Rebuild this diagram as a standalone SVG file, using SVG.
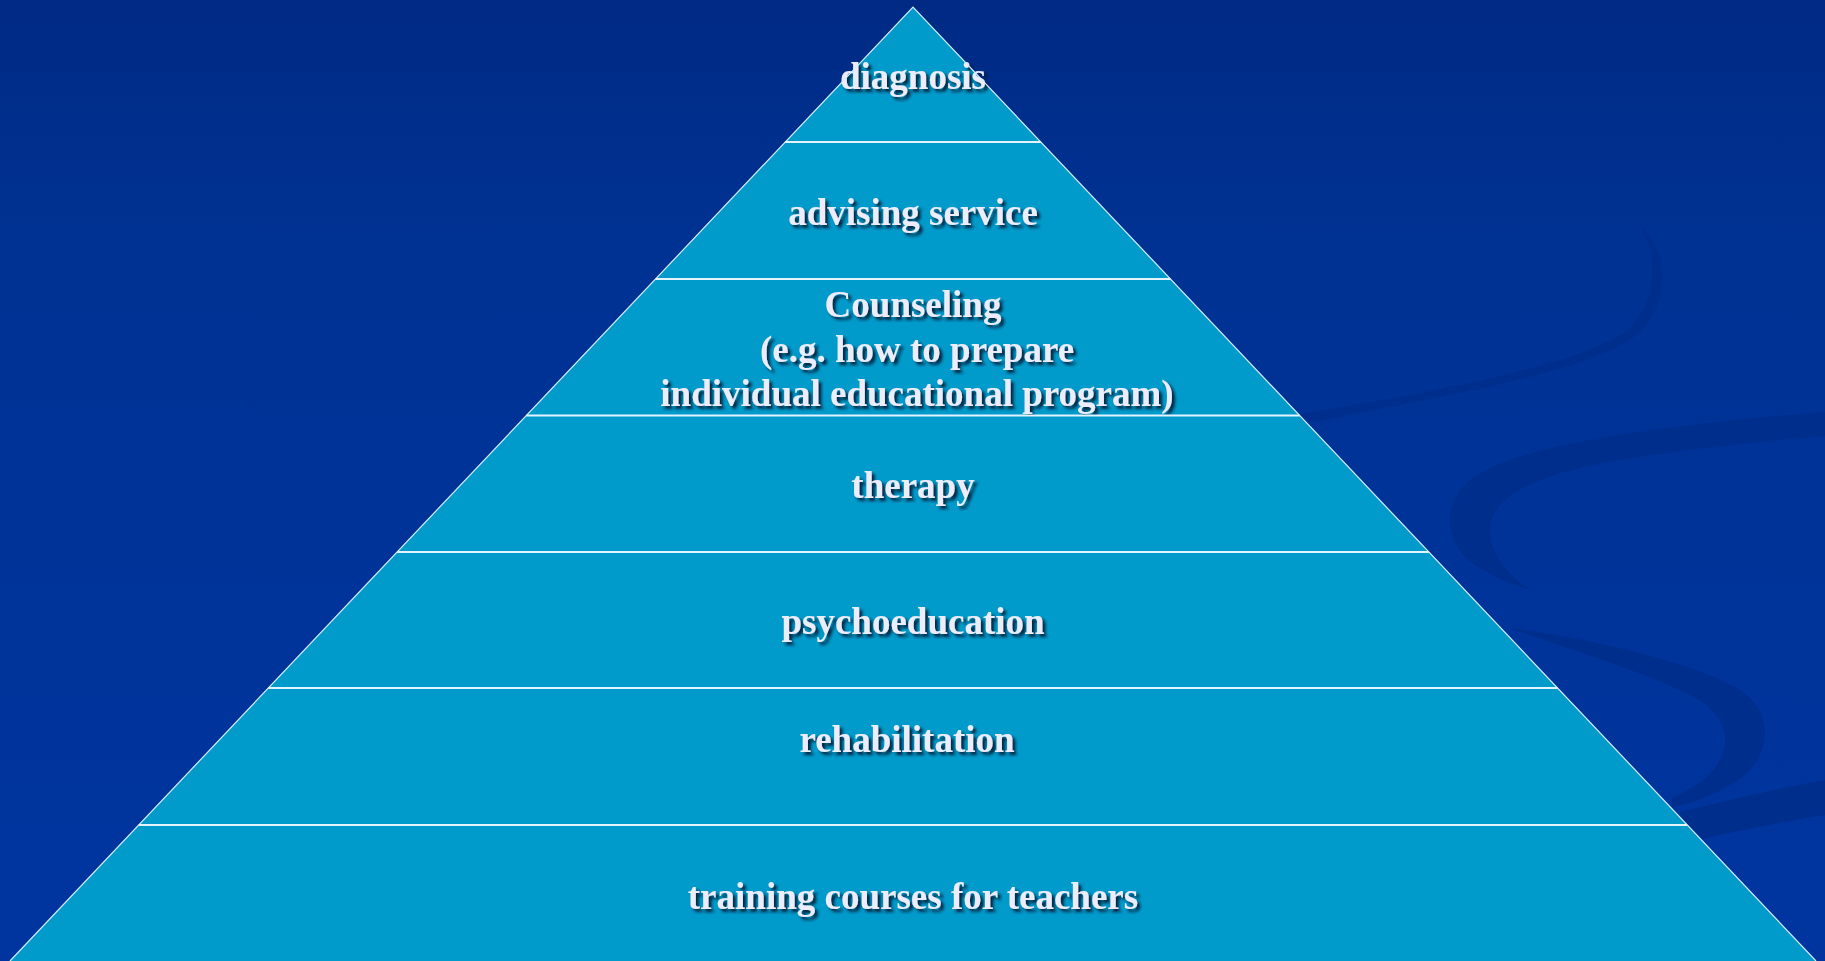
<svg xmlns="http://www.w3.org/2000/svg" width="1825" height="961" viewBox="0 0 1825 961">
<defs>
<linearGradient id="bg" x1="0" y1="0" x2="0" y2="1">
<stop offset="0" stop-color="#002A84"/>
<stop offset="0.25" stop-color="#003293"/>
<stop offset="1" stop-color="#0035A0"/>
</linearGradient>
<filter id="shadow" x="-10%" y="-30%" width="120%" height="160%">
<feDropShadow dx="3" dy="3" stdDeviation="1.5" flood-color="#001530" flood-opacity="0.9"/>
</filter>
</defs>
<style>
.tier{fill:#009BCB;}
.sep{stroke:#E4F4FF;stroke-width:2;fill:none;}
.edge{stroke:#D8EEFF;stroke-width:1.2;fill:none;}
.lbl{font-family:"Liberation Serif",serif;font-weight:bold;font-size:37px;fill:#ECECFA;text-anchor:middle;filter:url(#shadow);}
.swoosh{fill:#002E8C;}
</style>
<rect x="0" y="0" width="1825" height="961" fill="url(#bg)"/>
<g id="background-swooshes">
<path class="swoosh" d="M1641,228 C1668,250 1672,300 1640,332 C1600,370 1450,395 1300,424 L1300,414 C1450,390 1585,362 1628,330 C1655,305 1660,258 1641,228 Z"/>
<path class="swoosh" d="M1825,412 C1700,422 1520,440 1470,480 C1440,505 1445,545 1475,565 C1495,578 1515,585 1530,590 C1505,572 1490,552 1490,530 C1490,495 1540,473 1620,460 C1700,447 1780,440 1825,436 Z"/>
<path class="swoosh" d="M1510,628 C1600,640 1700,665 1740,690 C1775,712 1775,760 1730,785 C1710,797 1690,803 1672,808 L1672,798 C1690,790 1705,780 1715,768 C1735,740 1725,712 1690,695 C1640,670 1570,650 1510,628 Z"/>
<path class="swoosh" d="M1680,812 C1730,800 1780,788 1825,780 L1825,815 C1780,822 1730,832 1690,842 Z"/>
</g>
<g id="pyramid">
<g id="tier-diagnosis">
<polygon class="tier" points="913,7 1040.8,142 785.2,142"/>
<text class="lbl" x="913" y="89">diagnosis</text>
</g>
<g id="tier-advising-service">
<polygon class="tier" points="785.2,142 1040.8,142 1170.4,279 655.6,279"/>
<text class="lbl" x="913" y="225">advising service</text>
</g>
<g id="tier-counseling">
<polygon class="tier" points="655.6,279 1170.4,279 1299.6,415.5 526.4,415.5"/>
<text class="lbl" x="913" y="317">Counseling</text>
<text class="lbl" x="917" y="362">(e.g. how to prepare</text>
<text class="lbl" x="917" y="406">individual educational program)</text>
</g>
<g id="tier-therapy">
<polygon class="tier" points="526.4,415.5 1299.6,415.5 1428.8,552 397.2,552"/>
<text class="lbl" x="913" y="498">therapy</text>
</g>
<g id="tier-psychoeducation">
<polygon class="tier" points="397.2,552 1428.8,552 1557.6,688 268.4,688"/>
<text class="lbl" x="913" y="634">psychoeducation</text>
</g>
<g id="tier-rehabilitation">
<polygon class="tier" points="268.4,688 1557.6,688 1687.2,825 138.8,825"/>
<text class="lbl" x="907" y="752">rehabilitation</text>
</g>
<g id="tier-training">
<polygon class="tier" points="138.8,825 1687.2,825 1816,961 10,961"/>
<text class="lbl" x="913" y="909">training courses for teachers</text>
</g>
</g>
<g id="outlines">
<path class="edge" d="M10,961 L913,7 L1816,961"/>
<path class="sep" d="M785.2,142 H1040.8 M655.6,279 H1170.4 M526.4,415.5 H1299.6 M397.2,552 H1428.8 M268.4,688 H1557.6 M138.8,825 H1687.2"/>
</g>
</svg>
